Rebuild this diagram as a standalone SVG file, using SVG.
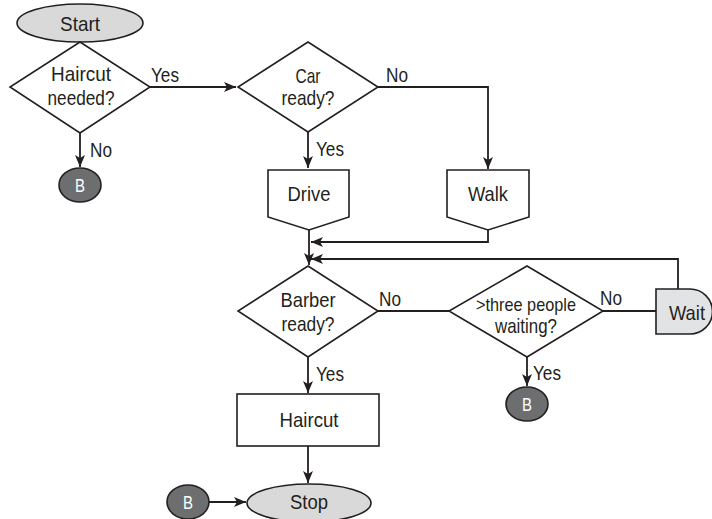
<svg xmlns="http://www.w3.org/2000/svg" width="712" height="519" viewBox="0 0 712 519">
<style>
.s{stroke:#231f20;stroke-width:1.6;fill:#fff}
.term{fill:#d9d9d9}
.conn{fill:#6d6e70}
.wait{fill:#e2e3e4}
.c{fill:none;stroke:#231f20;stroke-width:1.8}
text{font-family:"Liberation Sans",Arial,sans-serif;fill:#231f20;font-size:21px;text-anchor:middle}
.lbl{font-size:20px;text-anchor:start}
.sm{font-size:19px}
.w{fill:#fff;font-size:19px}
</style>
<defs>
<marker id="ah" markerUnits="userSpaceOnUse" markerWidth="13" markerHeight="11" refX="12" refY="5.5" orient="auto">
<path d="M0,0.5 L12,5.5 L0,10.5 L3,5.5 Z" fill="#231f20"/>
</marker>
</defs>
<rect width="712" height="519" fill="#fff"/>
<g id="connectors">
<path class="c" d="M150,87 H236" marker-end="url(#ah)"/>
<path class="c" d="M80,133 V167" marker-end="url(#ah)"/>
<path class="c" d="M308,132 V168" marker-end="url(#ah)"/>
<path class="c" d="M378,87 H488 V169" marker-end="url(#ah)"/>
<path class="c" d="M309,230 V265" marker-end="url(#ah)"/>
<path class="c" d="M488,230 V242 H311" marker-end="url(#ah)"/>
<path class="c" d="M678,289 V259 H311" marker-end="url(#ah)"/>
<path class="c" d="M378,311 H449"/>
<path class="c" d="M603,311 H656"/>
<path class="c" d="M527,357 V386" marker-end="url(#ah)"/>
<path class="c" d="M308,357 V393" marker-end="url(#ah)"/>
<path class="c" d="M308,446 V483" marker-end="url(#ah)"/>
<path class="c" d="M209,502 H246" marker-end="url(#ah)"/>
<text class="lbl" x="151" y="82" textLength="28" lengthAdjust="spacingAndGlyphs">Yes</text>
<text class="lbl" x="90" y="157" textLength="22" lengthAdjust="spacingAndGlyphs">No</text>
<text class="lbl" x="316" y="156" textLength="28" lengthAdjust="spacingAndGlyphs">Yes</text>
<text class="lbl" x="386" y="82" textLength="22" lengthAdjust="spacingAndGlyphs">No</text>
<text class="lbl" x="379" y="306" textLength="22" lengthAdjust="spacingAndGlyphs">No</text>
<text class="lbl" x="600" y="305" textLength="22" lengthAdjust="spacingAndGlyphs">No</text>
<text class="lbl" x="316" y="381" textLength="28" lengthAdjust="spacingAndGlyphs">Yes</text>
<text class="lbl" x="533" y="380" textLength="28" lengthAdjust="spacingAndGlyphs">Yes</text>
</g>
<g id="start">
<ellipse class="s term" cx="80" cy="23" rx="63" ry="19"/>
<text x="80" y="31" textLength="40" lengthAdjust="spacingAndGlyphs">Start</text>
</g>
<g id="haircut-needed">
<polygon class="s" points="80,42 150,87 80,133 10,87"/>
<text x="81" y="81" textLength="60" lengthAdjust="spacingAndGlyphs">Haircut</text>
<text x="81" y="105" textLength="67" lengthAdjust="spacingAndGlyphs">needed?</text>
</g>
<g id="b1">
<ellipse class="s conn" cx="80" cy="185" rx="21" ry="17"/>
<text class="w" x="80" y="192" textLength="10" lengthAdjust="spacingAndGlyphs">B</text>
</g>
<g id="car-ready">
<polygon class="s" points="308,42 378,87 308,132 238,87"/>
<text x="308" y="83" textLength="25" lengthAdjust="spacingAndGlyphs">Car</text>
<text x="308" y="105" textLength="53" lengthAdjust="spacingAndGlyphs">ready?</text>
</g>
<g id="drive">
<polygon class="s" points="268,170 349,170 349,217 309,230 268,217"/>
<text x="309" y="201" textLength="43" lengthAdjust="spacingAndGlyphs">Drive</text>
</g>
<g id="walk">
<polygon class="s" points="447,170 529,170 529,217 488,230 447,217"/>
<text x="488" y="201" textLength="40" lengthAdjust="spacingAndGlyphs">Walk</text>
</g>
<g id="barber-ready">
<polygon class="s" points="308,266 378,311 308,357 238,311"/>
<text x="308" y="307" textLength="55" lengthAdjust="spacingAndGlyphs">Barber</text>
<text x="308" y="331" textLength="53" lengthAdjust="spacingAndGlyphs">ready?</text>
</g>
<g id="three-people">
<polygon class="s" points="527,266 603,311 527,357 449,311"/>
<text class="sm" x="526" y="311" textLength="100" lengthAdjust="spacingAndGlyphs">&gt;three people</text>
<text x="526" y="333" textLength="62" lengthAdjust="spacingAndGlyphs">waiting?</text>
</g>
<g id="wait">
<path class="s wait" d="M656,289 H690 A22.5,22.5 0 0 1 690,334 H656 Z"/>
<text x="687" y="320" textLength="36" lengthAdjust="spacingAndGlyphs">Wait</text>
</g>
<g id="b2">
<ellipse class="s conn" cx="527" cy="404" rx="21" ry="17"/>
<text class="w" x="527" y="411" textLength="10" lengthAdjust="spacingAndGlyphs">B</text>
</g>
<g id="haircut">
<rect class="s" x="237" y="394" width="142" height="52"/>
<text x="309" y="427" textLength="59" lengthAdjust="spacingAndGlyphs">Haircut</text>
</g>
<g id="b3">
<ellipse class="s conn" cx="188" cy="502" rx="21" ry="17"/>
<text class="w" x="188" y="509" textLength="10" lengthAdjust="spacingAndGlyphs">B</text>
</g>
<g id="stop">
<ellipse class="s term" cx="309" cy="503" rx="62" ry="19"/>
<text x="309" y="509" textLength="38" lengthAdjust="spacingAndGlyphs">Stop</text>
</g>
</svg>
